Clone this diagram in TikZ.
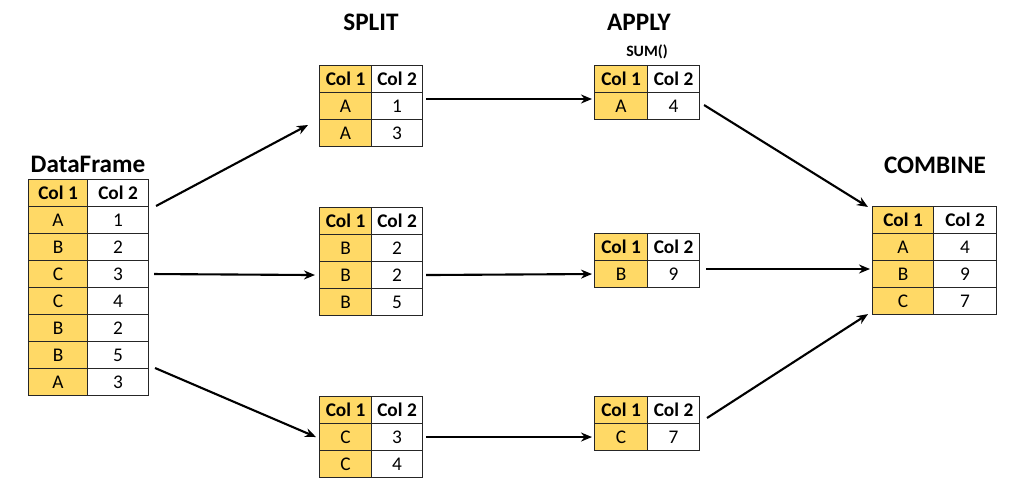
\documentclass[tikz,border=0pt]{standalone}
\usepackage{fontspec}
\setmainfont{Carlito}
\usetikzlibrary{arrows.meta,positioning}
\definecolor{cellgold}{HTML}{FFD966}

% name, left, top, width col 1, width col 2, rows
\newcommand{\drawtable}[6]{%
    \node[cell, hdr, fill=cellgold, minimum width={#4*0.03cm}] (#1-h1) at (#2,#3) {Col 1};
    \node[cell, hdr, minimum width={#5*0.03cm}] (#1-h2) at (#2+#4,#3) {Col 2};
    \foreach \a/\b [count=\i] in {#6} {
        \node[cell, fill=cellgold, minimum width={#4*0.03cm}] (#1-a\i) at (#2,#3+27*\i) {\a};
        \node[cell, minimum width={#5*0.03cm}] (#1-b\i) at (#2+#4,#3+27*\i) {\b};
    }%
}

\begin{document}
\begin{tikzpicture}[
        x=0.03cm, y=-0.03cm,
        cell/.style={draw=black!85, line width=0.9pt, anchor=north west, inner sep=0pt,
            minimum height=0.81cm, font=\fontsize{16.5}{18}\selectfont},
        hdr/.style={font=\fontsize{16.5}{18}\selectfont\bfseries},
        title/.style={font=\fontsize{21.5}{24}\selectfont\bfseries},
        arr/.style={-{Stealth[length=3.3mm, width=2.7mm]}, line width=1.8pt}
    ]
        \useasboundingbox (0,0) rectangle (1027,498);
        % titles
        \node[title] (tdf) at (88,164) {DataFrame};
        \node[title] (tsplit) at (371,22) {SPLIT};
        \node[title] (tapply) at (639,22) {APPLY};
        \node[font=\fontsize{13.5}{15}\selectfont\bfseries] (tsum) at (647,52) {SUM()};
        \node[title] (tcomb) at (935,165) {COMBINE};
        % tables
        \drawtable{df}{28}{179}{59}{61}{A/1, B/2, C/3, C/4, B/2, B/5, A/3}
        \drawtable{sa}{319}{65}{52}{51}{A/1, A/3}
        \drawtable{sb}{319}{207}{52}{51}{B/2, B/2, B/5}
        \drawtable{sc}{319}{396}{52}{51}{C/3, C/4}
        \drawtable{pa}{594}{65}{53}{52}{A/4}
        \drawtable{pb}{594}{233}{53}{52}{B/9}
        \drawtable{pc}{594}{396}{53}{52}{C/7}
        \drawtable{cb}{872}{206}{61}{63}{A/4, B/9, C/7}
        % split
        \draw[arr] ([shift={(7,0)}]df-b1.north east) -- ([shift={(-11,6)}]sa-a2.north west);
        \draw[arr] ([shift={(5,0)}]df-b3.east) -- ([shift={(-4,0)}]sb-a2.west);
        \draw[arr] ([shift={(6,0)}]df-b7.north east) -- ([shift={(-3,0)}]sc-a1.west);
        % apply
        \draw[arr] ([shift={(3,7)}]sa-b1.north east) -- ([shift={(-2,7)}]pa-a1.north west);
        \draw[arr] ([shift={(3,0)}]sb-b2.east) -- ([shift={(-2,0)}]pb-a1.west);
        \draw[arr] ([shift={(3,0)}]sc-b1.east) -- ([shift={(-2,0)}]pc-a1.west);
        % combine
        \draw[arr] ([shift={(4,-1)}]pa-b1.east) -- ([shift={(-4,1)}]cb-h1.north west);
        \draw[arr] ([shift={(6,9)}]pb-b1.north east) -- ([shift={(-2,9)}]cb-a2.north west);
        \draw[arr] ([shift={(7,-5)}]pc-b1.north east) -- ([shift={(-4,-1)}]cb-a3.south west);
    \end{tikzpicture}
\end{document}
